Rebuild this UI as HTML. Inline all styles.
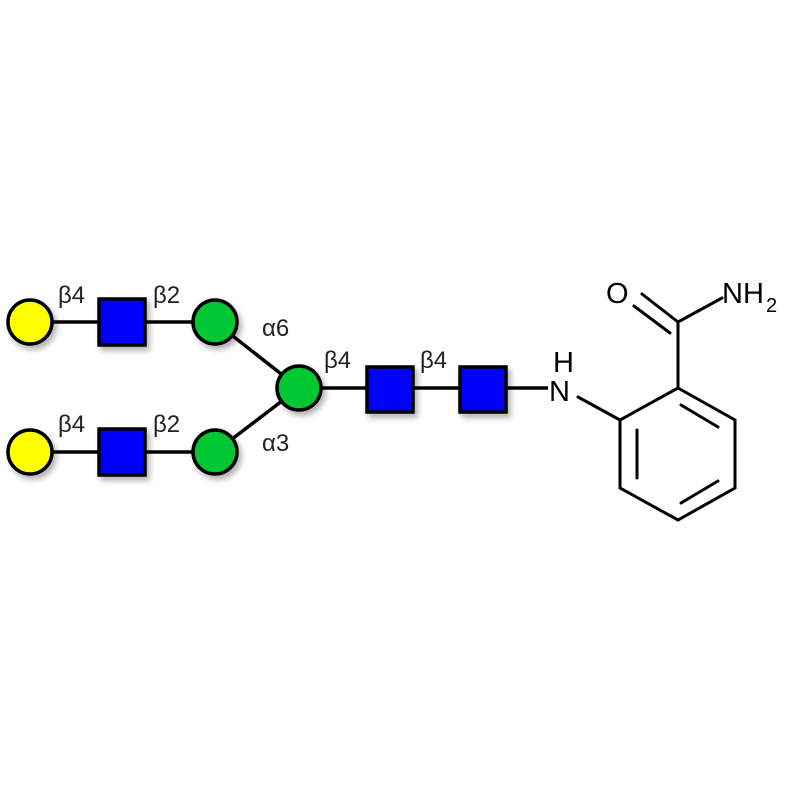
<!DOCTYPE html>
<html><head><style>html,body{margin:0;padding:0;background:#fff}</style></head><body>
<svg width="800" height="800" xmlns="http://www.w3.org/2000/svg" font-family="Liberation Sans, sans-serif">
<defs><filter id="sh" x="-30%" y="-30%" width="170%" height="170%"><feDropShadow dx="3" dy="4" stdDeviation="3" flood-color="#000" flood-opacity="0.3"/></filter></defs>
<g stroke="#000" stroke-width="3.5" fill="none">
<line x1="30" y1="322" x2="215" y2="322"/>
<line x1="30" y1="452" x2="215" y2="452"/>
<line x1="215" y1="322" x2="299" y2="388"/>
<line x1="215" y1="452" x2="299" y2="388"/>
<line x1="299" y1="388" x2="548" y2="388"/>
</g>
<g stroke="#000" stroke-width="3.5" filter="url(#sh)">
<circle cx="30" cy="322" r="22" fill="#ffff00"/>
<circle cx="30" cy="452" r="22" fill="#ffff00"/>
<rect x="99" y="299" width="46" height="46" fill="#0000ff"/>
<rect x="99" y="429" width="46" height="46" fill="#0000ff"/>
<circle cx="215" cy="322" r="22" fill="#00c832"/>
<circle cx="215" cy="452" r="22" fill="#00c832"/>
<circle cx="299" cy="388" r="22" fill="#00c832"/>
<rect x="367" y="367" width="46" height="45" fill="#0000ff"/>
<rect x="460" y="367" width="46" height="45" fill="#0000ff"/>
</g>
<g font-size="24" fill="#222">
<text x="58" y="303">β4</text>
<text x="153" y="303">β2</text>
<text x="58" y="432">β4</text>
<text x="153" y="432">β2</text>
<text x="262" y="336">α6</text>
<text x="262" y="451">α3</text>
<text x="324" y="368">β4</text>
<text x="420" y="368">β4</text>
</g>
<g font-size="29" fill="#000">
<text x="553" y="372">H</text>
<text x="549" y="401">N</text>
<text x="606" y="303">O</text>
<text x="722" y="303">NH</text>
<text x="766" y="312" font-size="20">2</text>
</g>
<g stroke="#000" stroke-width="3" fill="none" stroke-linecap="round">
<line x1="578" y1="397" x2="620" y2="420"/>
<polygon points="678,388 735,420 735,488 678,520 620,488 620,420"/>
<line x1="637" y1="430" x2="637" y2="478"/>
<line x1="681" y1="405" x2="718" y2="427"/>
<line x1="681" y1="503" x2="718" y2="481"/>
<line x1="678" y1="388" x2="678" y2="322"/>
<line x1="678" y1="322" x2="722" y2="298"/>
<line x1="678" y1="322" x2="642" y2="294"/>
<line x1="670" y1="333" x2="634" y2="306"/>
</g>
</svg>
</body></html>
